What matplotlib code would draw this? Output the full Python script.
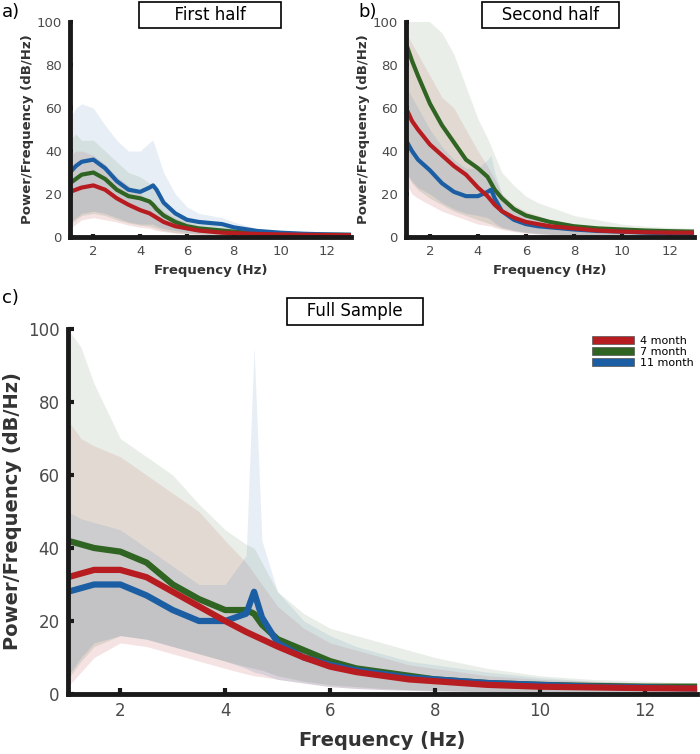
import matplotlib
matplotlib.use("Agg")
import matplotlib.pyplot as plt
from matplotlib.patches import Patch

# frequency grid (Hz) shared by all curves
freq = [1, 1.25, 1.5, 2, 2.5, 3, 3.5, 4, 4.4, 4.55, 4.7, 5, 5.5, 6, 6.5, 7, 7.5, 8, 9, 10, 11, 12, 13]

groups = ["4 month", "7 month", "11 month"]
colors = {"4 month": "#b71c20", "7 month": "#2f6422", "11 month": "#1c5ea3"}

# a) First half
a_mean = {
    "4 month": [21, 22, 23, 24, 22, 18, 15, 12.5, 11, 10, 9, 7, 5, 4, 3, 2.5, 2, 1.8, 1.4, 1.2, 1, 0.9, 0.8],
    "7 month": [25, 27, 29, 30, 27, 22, 19, 18, 16.5, 15, 13, 10, 7, 5, 4, 3.5, 3, 2.5, 1.8, 1.5, 1.2, 1.1, 1],
    "11 month": [30, 33, 35, 36, 32, 26, 22, 21, 23, 24, 22, 16, 11, 8, 7, 6.5, 6, 4.5, 2.8, 2, 1.5, 1.2, 1],
}
a_hi = {
    "4 month": [38, 40, 40, 38, 34, 28, 24, 20, 17, 16, 15, 12, 9, 7, 5, 4, 3.5, 3, 2.3, 2, 1.8, 1.6, 1.5],
    "7 month": [45, 48, 45, 45, 40, 35, 30, 28, 25, 24, 22, 16, 12, 9, 7, 6, 5, 4, 3, 2.5, 2, 2, 1.8],
    "11 month": [55, 60, 62, 60, 52, 45, 40, 40, 44, 45, 40, 30, 20, 14, 11, 10, 9, 7, 4, 3, 2.5, 2, 2],
}
a_lo = {
    "4 month": [4, 6, 8, 9, 8, 7, 5.5, 4.5, 4, 3.5, 3, 2.5, 1.8, 1.4, 1.1, 0.9, 0.8, 0.7, 0.5, 0.4, 0.3, 0.3, 0.2],
    "7 month": [6, 8, 10, 11, 10, 8, 6.5, 5.5, 5, 4.5, 4, 3, 2, 1.6, 1.3, 1, 0.9, 0.8, 0.6, 0.5, 0.4, 0.3, 0.3],
    "11 month": [7, 9, 11, 12, 11, 9, 7, 6, 6, 6, 5, 4, 3, 2, 1.6, 1.4, 1.2, 1, 0.7, 0.5, 0.4, 0.3, 0.3],
}

# b) Second half
b_mean = {
    "4 month": [60, 54, 50, 43, 38, 33, 29, 23, 19, 17, 15, 12, 9, 7, 6, 5, 4.5, 4, 3, 2.5, 2.2, 2, 2],
    "7 month": [90, 82, 75, 62, 52, 44, 36, 32, 28, 25, 22, 18, 13, 10, 8.5, 7, 6, 5, 4, 3.5, 3, 2.7, 2.5],
    "11 month": [45, 40, 36, 31, 25, 21, 19, 19, 21, 22, 18, 12, 8, 6, 5, 4.5, 4, 3.5, 2.8, 2.5, 2, 1.7, 1.5],
}
b_hi = {
    "4 month": [95, 90, 85, 75, 65, 60, 50, 40, 33, 30, 27, 20, 15, 12, 10, 8, 7, 6, 5, 4, 3.5, 3, 3],
    "7 month": [110, 110, 110, 100, 95, 85, 70, 55, 46, 42, 38, 30, 24, 19, 16, 14, 12, 10, 8, 6, 5, 4.5, 4],
    "11 month": [70, 65, 60, 50, 42, 36, 32, 32, 36, 38, 30, 20, 14, 10, 8, 7, 6, 5, 4, 3.5, 3, 2.5, 2],
}
b_lo = {
    "4 month": [25, 20, 18, 15, 12, 10, 8, 6, 5.3, 5, 4.3, 3.5, 2.5, 1.8, 1.4, 1.1, 0.9, 0.8, 0.6, 0.5, 0.4, 0.3, 0.3],
    "7 month": [30, 25, 22, 18, 15, 12, 10, 8, 6.5, 6, 5.3, 4, 3, 2, 1.5, 1.2, 1, 0.8, 0.6, 0.5, 0.4, 0.3, 0.3],
    "11 month": [30, 26, 23, 20, 16, 13, 11, 10, 9, 8, 6.5, 4.5, 3, 2.2, 1.7, 1.4, 1.2, 1, 0.7, 0.5, 0.4, 0.3, 0.3],
}

# c) Full sample
c_mean = {
    "4 month": [32, 33, 34, 34, 32, 28, 24, 20, 17, 16, 15, 13, 10, 7.5, 6, 5, 4, 3.5, 2.5, 2, 1.8, 1.6, 1.5],
    "7 month": [42, 41, 40, 39, 36, 30, 26, 23, 23, 22, 19, 15, 12, 9, 7, 6, 5, 4, 3, 2.5, 2.2, 2, 2],
    "11 month": [28, 29, 30, 30, 27, 23, 20, 20, 22, 28, 21, 14, 10, 8, 6.5, 5.5, 4.5, 4, 3, 2.5, 2, 1.8, 1.5],
}
c_hi = {
    "4 month": [75, 70, 68, 65, 60, 55, 50, 42, 36, 33, 30, 24, 18, 14, 12, 10, 8, 7, 5, 4, 3.5, 3, 3],
    "7 month": [100, 95, 85, 70, 65, 60, 52, 45, 41, 40, 36, 28, 22, 18, 16, 14, 12, 10, 7, 5, 4, 3.5, 3],
    "11 month": [50, 48, 47, 45, 40, 35, 30, 30, 38, 95, 42, 28, 20, 16, 13, 11, 9, 8, 6, 4.5, 3.5, 3, 2.5],
}
c_lo = {
    "4 month": [2, 6, 10, 14, 13, 11, 9, 7, 5.5, 5, 4.7, 4, 3, 2, 1.5, 1.2, 1, 0.8, 0.6, 0.5, 0.4, 0.3, 0.3],
    "7 month": [4, 9, 13, 16, 15, 13, 11, 9, 7.5, 7, 6.5, 5, 3.5, 2.5, 2, 1.5, 1.2, 1, 0.7, 0.5, 0.4, 0.3, 0.3],
    "11 month": [5, 10, 14, 16, 15, 13, 11, 9, 7, 6, 5.5, 4, 3, 2, 1.5, 1.2, 1, 0.8, 0.6, 0.5, 0.4, 0.3, 0.3],
}

x_ticks = [2, 4, 6, 8, 10, 12]
y_ticks = [0, 20, 40, 60, 80, 100]
tick_grey = "#4a4a4a"


def draw_panel(ax, mean, hi, lo, lw, tick_fs, label_fs, tick_len):
    # faint upper spread, stronger lower spread (overlap reads as grey)
    for g in groups:
        ax.fill_between(freq, mean[g], hi[g], color=colors[g], alpha=0.10, lw=0)
        ax.fill_between(freq, lo[g], mean[g], color=colors[g], alpha=0.125, lw=0)
    for g in ["7 month", "11 month", "4 month"]:
        ax.plot(freq, mean[g], color=colors[g], lw=lw, solid_joinstyle="round")
    ax.set_xlim(1, 13)
    ax.set_ylim(0, 100)
    ax.set_xticks(x_ticks)
    ax.set_yticks(y_ticks)
    for s in ["top", "right"]:
        ax.spines[s].set_visible(False)
    for s in ["left", "bottom"]:
        ax.spines[s].set_linewidth(3.5)
        ax.spines[s].set_color("#1a1a1a")
    ax.tick_params(direction="in", length=tick_len, width=3, color="#1a1a1a",
                   labelsize=tick_fs, labelcolor=tick_grey, pad=6)
    ax.set_xlabel("Frequency (Hz)", fontsize=label_fs, fontweight="bold", color="#333333")
    ax.set_ylabel("Power/Frequency (dB/Hz)", fontsize=label_fs, fontweight="bold", color="#333333")


fig = plt.figure(figsize=(7, 7.54), dpi=100)

ax_a = fig.add_axes([0.100, 0.6857, 0.401, 0.285])
ax_b = fig.add_axes([0.580, 0.6857, 0.411, 0.285])
ax_c = fig.add_axes([0.097, 0.0796, 0.899, 0.484])

draw_panel(ax_a, a_mean, a_hi, a_lo, 3, 9.5, 9.5, 2)
draw_panel(ax_b, b_mean, b_hi, b_lo, 3, 9.5, 9.5, 2)
draw_panel(ax_c, c_mean, c_hi, c_lo, 4.5, 12, 14, 4)
ax_a.yaxis.labelpad = 2
ax_b.yaxis.labelpad = 2
ax_c.xaxis.labelpad = 8

box = dict(boxstyle="square,pad=0.25", fc="white", ec="black", lw=1.2)
fig.text(0.30, 0.980, "      First half      ", ha="center", va="center", fontsize=12, bbox=box)
fig.text(0.786, 0.980, "   Second half   ", ha="center", va="center", fontsize=12, bbox=box)
fig.text(0.507, 0.587, "   Full Sample   ", ha="center", va="center", fontsize=12, bbox=box)

fig.text(0.003, 0.984, "a)", fontsize=13, va="center")
fig.text(0.512, 0.984, "b)", fontsize=13, va="center")
fig.text(0.003, 0.605, "c)", fontsize=13, va="center")

handles = [Patch(facecolor=colors[g], edgecolor="#555555", lw=0.5) for g in groups]
ax_c.legend(handles, groups, loc="upper right", bbox_to_anchor=(1.005, 1.0), frameon=False,
            fontsize=8, handlelength=3.8, handleheight=0.7, labelspacing=0.1,
            handletextpad=0.5, borderaxespad=0.2)

fig.savefig("out.png", dpi=100)
